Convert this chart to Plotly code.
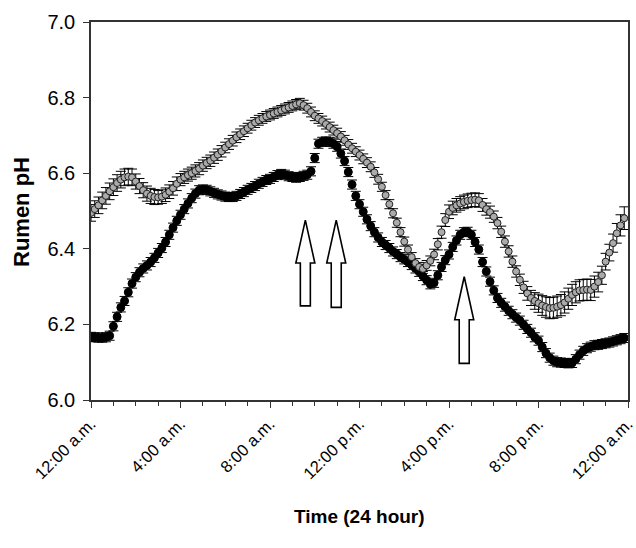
import plotly.graph_objects as go

# Time in hours, 10-minute readings from 0:00 to 23:50
hours = [i / 6 for i in range(144)]

tick_vals = [0, 4, 8, 12, 16, 20, 24]
tick_text = ["12:00 a.m.", "4:00 a.m.", "8:00 a.m.", "12:00 p.m.",
             "4:00 p.m.", "8:00 p.m.", "12:00 a.m."]

ph_gray = [
    6.495, 6.505, 6.515, 6.528, 6.540, 6.552,
    6.563, 6.574, 6.583, 6.589, 6.591, 6.589,
    6.578, 6.566, 6.555, 6.546, 6.540, 6.537,
    6.536, 6.538, 6.543, 6.551, 6.560, 6.572,
    6.583, 6.589, 6.595, 6.600, 6.606, 6.612,
    6.620, 6.627, 6.633, 6.641, 6.649, 6.658,
    6.668, 6.677, 6.686, 6.695, 6.703, 6.711,
    6.719, 6.727, 6.734, 6.740, 6.745, 6.750,
    6.754, 6.758, 6.762, 6.766, 6.770, 6.774,
    6.778, 6.782, 6.785, 6.780, 6.772, 6.762,
    6.752, 6.745, 6.738, 6.730, 6.722, 6.714,
    6.706, 6.697, 6.687, 6.676, 6.666, 6.657,
    6.648, 6.638, 6.628, 6.617, 6.602, 6.584,
    6.564, 6.542, 6.518, 6.494, 6.469, 6.444,
    6.419, 6.398, 6.378, 6.362, 6.352, 6.347,
    6.356, 6.368, 6.385, 6.412, 6.444, 6.476,
    6.498, 6.508, 6.515, 6.520, 6.524, 6.527,
    6.529, 6.530, 6.528, 6.516, 6.505, 6.497,
    6.485, 6.468, 6.445, 6.419, 6.393, 6.366,
    6.340, 6.318, 6.298, 6.282, 6.270, 6.262,
    6.256, 6.250, 6.246, 6.243, 6.244, 6.247,
    6.251, 6.258, 6.268, 6.278, 6.285, 6.290,
    6.291, 6.292, 6.291, 6.300, 6.312, 6.330,
    6.366, 6.390, 6.415, 6.441, 6.462, 6.481,
]

err_gray = [
    0.022, 0.022, 0.022, 0.022, 0.022, 0.022,
    0.022, 0.022, 0.022, 0.022, 0.022, 0.022,
    0.020, 0.020, 0.020, 0.020, 0.020, 0.020,
    0.018, 0.018, 0.018, 0.018, 0.018, 0.018,
    0.016, 0.016, 0.016, 0.016, 0.016, 0.016,
    0.015, 0.015, 0.015, 0.015, 0.015, 0.015,
    0.014, 0.014, 0.014, 0.014, 0.014, 0.014,
    0.013, 0.013, 0.013, 0.013, 0.013, 0.013,
    0.013, 0.013, 0.013, 0.013, 0.013, 0.013,
    0.013, 0.013, 0.013, 0.013, 0.013, 0.013,
    0.013, 0.013, 0.013, 0.013, 0.013, 0.013,
    0.013, 0.013, 0.013, 0.013, 0.013, 0.013,
    0.013, 0.013, 0.013, 0.013, 0.013, 0.013,
    0.012, 0.012, 0.012, 0.012, 0.012, 0.012,
    0.012, 0.012, 0.012, 0.012, 0.012, 0.012,
    0.013, 0.013, 0.014, 0.015, 0.016, 0.017,
    0.018, 0.018, 0.018, 0.018, 0.018, 0.018,
    0.018, 0.018, 0.018, 0.017, 0.016, 0.016,
    0.015, 0.015, 0.015, 0.015, 0.015, 0.015,
    0.015, 0.015, 0.016, 0.018, 0.020, 0.022,
    0.024, 0.026, 0.027, 0.028, 0.028, 0.028,
    0.028, 0.028, 0.028, 0.028, 0.028, 0.028,
    0.028, 0.028, 0.028, 0.028, 0.026, 0.024,
    0.022, 0.022, 0.024, 0.026, 0.028, 0.030,
]

ph_black = [
    6.167, 6.166, 6.165, 6.165, 6.166, 6.170,
    6.195, 6.220, 6.245, 6.262, 6.285, 6.308,
    6.325, 6.338, 6.348, 6.356, 6.365, 6.376,
    6.389, 6.402, 6.418, 6.437, 6.456, 6.474,
    6.490, 6.505, 6.520, 6.534, 6.546, 6.555,
    6.557, 6.556, 6.552, 6.548, 6.544, 6.541,
    6.538, 6.537, 6.537, 6.540, 6.545, 6.550,
    6.556, 6.561, 6.566, 6.572, 6.577, 6.582,
    6.585, 6.590, 6.595, 6.598, 6.596, 6.592,
    6.590, 6.588, 6.590, 6.593, 6.596, 6.605,
    6.640, 6.678, 6.683, 6.684, 6.683, 6.678,
    6.670, 6.652, 6.632, 6.603, 6.570, 6.540,
    6.518, 6.498, 6.478, 6.460, 6.444, 6.430,
    6.418, 6.410, 6.402, 6.393, 6.386, 6.378,
    6.372, 6.365, 6.357, 6.348, 6.339, 6.328,
    6.317, 6.306, 6.310, 6.330, 6.352, 6.370,
    6.385, 6.405, 6.422, 6.437, 6.444, 6.445,
    6.437, 6.418, 6.398, 6.365, 6.340, 6.313,
    6.290, 6.270, 6.257, 6.247, 6.236, 6.227,
    6.218, 6.210, 6.199, 6.188, 6.178, 6.166,
    6.157, 6.140, 6.124, 6.112, 6.104, 6.100,
    6.099, 6.098, 6.097, 6.098, 6.108, 6.120,
    6.130, 6.137, 6.141, 6.145, 6.146, 6.148,
    6.150, 6.152, 6.155, 6.158, 6.161, 6.164,
]

err_black = [
    0.012, 0.012, 0.012, 0.012, 0.012, 0.012,
    0.012, 0.012, 0.012, 0.012, 0.012, 0.012,
    0.012, 0.012, 0.012, 0.012, 0.012, 0.012,
    0.012, 0.012, 0.012, 0.012, 0.012, 0.012,
    0.012, 0.012, 0.012, 0.012, 0.012, 0.012,
    0.012, 0.012, 0.012, 0.012, 0.012, 0.012,
    0.012, 0.012, 0.012, 0.012, 0.012, 0.012,
    0.012, 0.012, 0.012, 0.012, 0.012, 0.012,
    0.012, 0.012, 0.012, 0.012, 0.012, 0.012,
    0.012, 0.012, 0.012, 0.012, 0.012, 0.012,
    0.012, 0.012, 0.012, 0.012, 0.012, 0.012,
    0.012, 0.012, 0.012, 0.012, 0.012, 0.012,
    0.012, 0.012, 0.012, 0.012, 0.012, 0.012,
    0.012, 0.012, 0.012, 0.012, 0.012, 0.012,
    0.012, 0.012, 0.012, 0.012, 0.012, 0.012,
    0.012, 0.012, 0.012, 0.012, 0.012, 0.012,
    0.012, 0.012, 0.012, 0.012, 0.012, 0.012,
    0.012, 0.012, 0.012, 0.012, 0.012, 0.012,
    0.012, 0.012, 0.012, 0.012, 0.012, 0.012,
    0.012, 0.012, 0.012, 0.012, 0.012, 0.012,
    0.012, 0.012, 0.012, 0.012, 0.012, 0.012,
    0.012, 0.012, 0.012, 0.012, 0.012, 0.012,
    0.012, 0.012, 0.012, 0.012, 0.012, 0.012,
    0.012, 0.012, 0.012, 0.012, 0.012, 0.012,
]

# Feeding arrows: x position (hours), tip and base (pH units)
arrow_x = [9.58, 10.96, 16.68]
arrow_tip = [6.476, 6.476, 6.326]
arrow_base = [6.249, 6.245, 6.097]

FONT = "Arial, Liberation Sans, sans-serif"

fig = go.Figure()

fig.add_trace(go.Scatter(
    x=hours, y=ph_black, mode="markers",
    marker=dict(symbol="circle", size=8, color="black",
                line=dict(color="black", width=1)),
    error_y=dict(type="data", array=err_black, color="black",
                 thickness=1, width=5),
    showlegend=False,
))
fig.add_trace(go.Scatter(
    x=hours, y=ph_gray, mode="markers",
    marker=dict(symbol="circle", size=7, color="#ababab",
                line=dict(color="#222222", width=1)),
    error_y=dict(type="data", array=err_gray, color="black",
                 thickness=1, width=5),
    showlegend=False,
))

# Arrow geometry in pixel terms converted to data units
px_per_hour = 537.0 / 24.0
px_per_ph = 378.0
shaft_hw = 5.0 / px_per_hour
head_hw = 9.5 / px_per_hour
head_len = 43.0 / px_per_ph

for xa, tip, base in zip(arrow_x, arrow_tip, arrow_base):
    neck = tip - head_len
    path = (f"M {xa - shaft_hw},{base} L {xa - shaft_hw},{neck} "
            f"L {xa - head_hw},{neck} L {xa},{tip} L {xa + head_hw},{neck} "
            f"L {xa + shaft_hw},{neck} L {xa + shaft_hw},{base} Z")
    fig.add_shape(type="path", path=path, xref="x", yref="y",
                  fillcolor="white", line=dict(color="black", width=1.6),
                  layer="above")

fig.update_layout(
    width=636, height=548,
    margin=dict(l=91, r=8, t=22, b=148),
    plot_bgcolor="white", paper_bgcolor="white",
    font=dict(family=FONT, size=16, color="black"),
)

fig.add_annotation(text="<b>Time (24 hour)</b>", xref="paper", yref="paper",
                   x=0.5, y=(400 - 516) / 378, xanchor="center", yanchor="middle",
                   showarrow=False, font=dict(size=19, family=FONT))
fig.add_annotation(text="<b>Rumen pH</b>", xref="paper", yref="paper",
                   x=(21 - 91) / 537, y=(400 - 212) / 378, textangle=-90,
                   xanchor="center", yanchor="middle",
                   showarrow=False, font=dict(size=22, family=FONT))

fig.update_xaxes(
    range=[0, 24], tickmode="array", tickvals=tick_vals, ticktext=tick_text,
    tickangle=-45, ticks="outside", ticklen=6, tickwidth=1, tickcolor="#333",
    minor=dict(dtick=1, ticks="outside", ticklen=4, tickcolor="#333", showgrid=False),
    showline=True, linecolor="#333", linewidth=1.5, mirror=True,
    showgrid=False, zeroline=False, automargin=False,
    ticklabeloverflow="allow",
    tickfont=dict(size=16.5),
)
fig.update_yaxes(
    range=[6.0, 7.0], dtick=0.2, tick0=6.0, tickformat=".1f",
    ticks="outside", ticklen=6, tickwidth=1, tickcolor="#333",
    showline=True, linecolor="#333", linewidth=1.5, mirror=True,
    showgrid=False, zeroline=False, automargin=False,
    ticklabelstandoff=4,
    tickfont=dict(size=20),
)

fig.write_html(
    "out.html",
    config={"displayModeBar": False},
    post_script="document.body.style.margin='0';document.body.style.overflow='hidden';",
)
